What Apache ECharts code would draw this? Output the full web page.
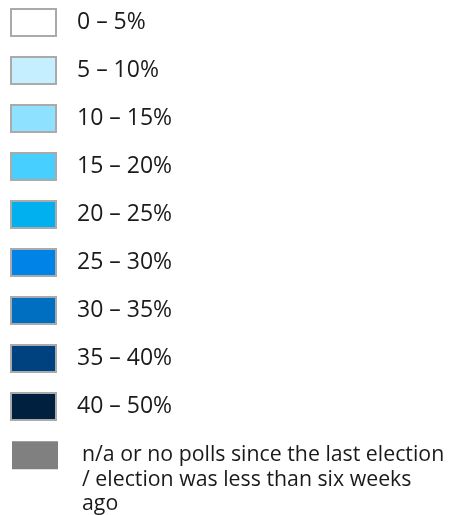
<!DOCTYPE html>
<html>
<head>
<meta charset="utf-8">
<script src="https://cdn.jsdelivr.net/npm/echarts@6/dist/echarts.min.js"></script>
<style>html,body{margin:0;padding:0;background:#fff}#c{width:450px;height:515px}</style>
</head>
<body>
<div id="c"></div>
<script>
var rangeLabels = ['0 – 5%', '5 – 10%', '10 – 15%', '15 – 20%', '20 – 25%', '25 – 30%', '30 – 35%', '35 – 40%', '40 – 50%'];
var rangeColors = ['#ffffff', '#c5efff', '#8ee2ff', '#47cfff', '#00b0ef', '#0083e6', '#006ec1', '#00427f', '#00203f'];
var naLabel = 'n/a or no polls since the last election\n/ election was less than six weeks\nago';
var naColor = '#808080';

var chart = echarts.init(document.getElementById('c'), null, {renderer: 'canvas'});
var series = rangeLabels.map(function (name, i) {
  return {
    type: 'bar', name: name, data: [],
    itemStyle: {color: rangeColors[i], borderColor: '#aaaaaa', borderWidth: 2}
  };
});
series.push({type: 'bar', name: naLabel, data: [], itemStyle: {color: naColor, borderWidth: 0}});

chart.setOption({
  animation: false,
  grid: {show: false, left: -100, top: -100, width: 10, height: 10},
  xAxis: {type: 'category', show: false, data: []},
  yAxis: {type: 'value', show: false},
  legend: [{
    orient: 'vertical', left: 10, top: 8, padding: 0,
    itemWidth: 45, itemHeight: 27, itemGap: 19,
    icon: 'rect', selectedMode: false,
    data: rangeLabels,
    textStyle: {fontFamily: 'Open Sans', fontSize: 23, lineHeight: 22, color: '#1a1a1a', padding: [0, 0, 0, 16]}
  }, {
    orient: 'vertical', left: 12, top: 394, padding: 0,
    itemWidth: 46, itemHeight: 28,
    icon: 'rect', selectedMode: false,
    data: [naLabel],
    formatter: function (name) { return '\n\n' + name; },
    textStyle: {fontFamily: 'Open Sans', fontSize: 21.3, lineHeight: 24.5, color: '#1a1a1a', padding: [0, 0, 0, 19]}
  }],
  series: series
});
</script>
</body>
</html>
